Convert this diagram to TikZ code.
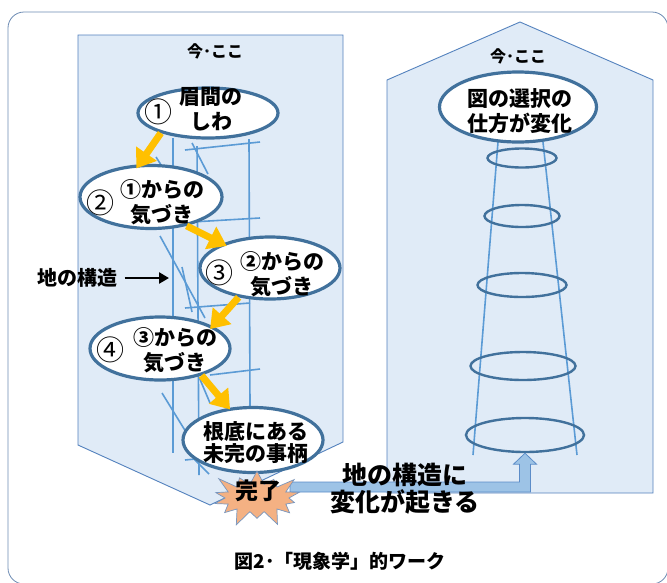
\documentclass[tikz,border=0pt]{standalone}
\usepackage{fontspec}
\setmainfont{Noto Sans CJK JP}
\usetikzlibrary{arrows.meta,shapes.geometric,shapes.symbols,calc}
\definecolor{panelfill}{RGB}{224,235,247}
\definecolor{paneldraw}{RGB}{84,130,190}
\definecolor{structline}{RGB}{91,155,213}
\definecolor{ellborder}{RGB}{65,113,156}
\definecolor{yarrow}{RGB}{255,192,0}
\definecolor{starfill}{RGB}{244,177,131}
\definecolor{stardraw}{RGB}{120,150,190}
\definecolor{bentfill}{RGB}{157,195,230}
\definecolor{bentdraw}{RGB}{91,140,200}
\definecolor{framecol}{RGB}{110,140,180}
\begin{document}
\begin{tikzpicture}[x=1pt,y=-1pt,
  panel/.style={fill=panelfill,draw=paneldraw,line width=0.9pt},
  sline/.style={draw=structline,line width=1.6pt},
  bubble/.style={ellipse,draw=ellborder,fill=white,line width=3.2pt,inner sep=0pt},
  ring/.style={ellipse,draw=ellborder,line width=2.4pt,inner sep=0pt},
  btext/.style={align=center,font=\fontsize{21}{25}\selectfont\bfseries,inner sep=0pt},
  numtext/.style={font=\fontsize{28}{28}\selectfont,inner sep=0pt},
  toptext/.style={font=\fontsize{16}{18}\selectfont\bfseries,inner sep=0pt},
  flow/.style={draw=yarrow,line width=7pt,-{Triangle[length=18pt,width=24pt]}},
]
\useasboundingbox (0,0) rectangle (667,582);
\fill[white] (0,0) rectangle (667,582);
% outer frame
\draw[framecol,line width=0.8pt,rounded corners=16pt] (8,12) rectangle (668,584);
% panels
\draw[panel] (78,35) -- (343,35) -- (343,442) -- (210,505) -- (78,445) -- cycle;
\draw[panel] (387,493) -- (387,80) -- (520,22) -- (653,80) -- (653,493) -- cycle;
% ground structure lines (left)
\draw[sline] (173,138) -- (173,453);
\draw[sline] (197,146) -- (199,475);
\draw[sline] (249,139) -- (250,408);
\draw[sline] (185,150) -- (260,142);
\draw[sline] (192,222) -- (260,218);
\draw[sline] (185,308) -- (250,303);
\draw[sline] (210,375) -- (260,369);
\draw[sline] (185,460) -- (215,457);
\draw[sline] (192,143) -- (208,174);
\draw[sline] (156,157) -- (170,179);
\draw[sline] (160,236) -- (205,318);
\draw[sline] (182,267) -- (192,312);
\draw[sline] (162,393) -- (186,432);
\draw[sline] (199,377) -- (210,403);
\draw[sline] (194,459) -- (209,474);
% tower lines (right)
\draw[sline] (498,142) -- (473,455);
\draw[sline] (543,142) -- (577,455);
% bubbles
\node[bubble,minimum width=140pt,minimum height=50pt] (e1) at (208,113) {};
\node[bubble,minimum width=142pt,minimum height=63pt] (e2) at (151,197) {};
\node[bubble,minimum width=140pt,minimum height=62pt] (e3) at (270,268) {};
\node[bubble,minimum width=140pt,minimum height=63pt] (e4) at (160,348.5) {};
\node[bubble,minimum width=140pt,minimum height=65pt] (e5) at (253,440) {};
\node[bubble,minimum width=157pt,minimum height=70pt] (e6) at (518,107) {};
% rings
\node[ring,minimum width=69pt,minimum height=19pt] (r1) at (522,158) {};
\node[ring,minimum width=75pt,minimum height=22pt] (r2) at (522,216) {};
\node[ring,minimum width=89pt,minimum height=24pt] (r3) at (522,285) {};
\node[ring,minimum width=105pt,minimum height=28pt] (r4) at (523,366) {};
\node[ring,minimum width=118pt,minimum height=34pt] (r5) at (525,435) {};
% bubble texts
\node[numtext] (n1) at (158,112) {①};
\node[btext] (t1) at (211,109.5) {眉間の\\しわ};
\node[numtext] (n2) at (100,203) {②};
\node[btext] (t2) at (162,202) {①からの\\気づき};
\node[numtext] (n3) at (219,273) {③};
\node[btext] (t3) at (282,274.5) {②からの\\気づき};
\node[numtext] (n4) at (110,350) {④};
\node[btext] (t4) at (175,350.5) {③からの\\気づき};
\node[btext,font=\fontsize{21}{22}\selectfont\bfseries] (t5) at (256,442.5) {根底にある\\未完の事柄};
\node[btext] (t6) at (520,111.5) {図の選択の\\仕方が変化};
% panel titles
\node[toptext] (h1) at (215,51) {今･ここ};
\node[toptext] (h2) at (518,56) {今･ここ};
% flow arrows
\draw[flow,shorten >=-5pt] (e1.203) -- (e2.110);
\draw[flow,shorten >=-5pt] (e2.321) -- (e3.153);
\draw[flow,shorten >=-4pt] (e3.223) -- (e4.23);
\draw[flow,shorten >=-2pt] (e4.327) -- (e5.127);
% ground structure label
\node[font=\fontsize{20}{22}\selectfont\bfseries,inner sep=0pt] (lbl) at (77.5,278) {地の構造};
\coordinate (lt) at (169,278);
\draw[line width=2.6pt,-{Triangle[length=10pt,width=11pt]},shorten <=7pt] (lbl.east) -- (lt);
% bent arrow
\coordinate (bs) at (290,487);
\path[fill=bentfill,draw=bentdraw,line width=0.8pt] let \p1=(bs), \p2=(r5.south) in
  (\x1,\y1+5pt) -- (\x2-5.5pt,\y1+5pt) -- (\x2-5.5pt,\y2-11pt) -- (\x2-11.5pt,\y2-11pt)
  -- (\x2,\y2) -- (\x2+11.5pt,\y2-11pt) -- (\x2+5.5pt,\y2-11pt) -- (\x2+5.5pt,\y1-5pt)
  -- (\x1,\y1-5pt) -- cycle;
% star
\node[starburst,fill=starfill,draw=stardraw,line width=0.7pt,minimum width=100pt,minimum height=64pt,
  starburst points=14,starburst point height=18pt] (star) at (257,498) {};
\node[font=\fontsize{23}{24}\selectfont\bfseries,inner sep=0pt] (done) at (258,491) {完了};
% change text
\node[align=center,font=\fontsize{25}{27}\selectfont\bfseries,inner sep=0pt] (chg) at (405,488.5) {地の構造に\\変化が起きる};
% caption
\node[font=\fontsize{19}{21}\selectfont\bfseries,inner sep=0pt] (cap) at (340,561) {図2･「現象学」的ワーク};
\end{tikzpicture}
\end{document}
